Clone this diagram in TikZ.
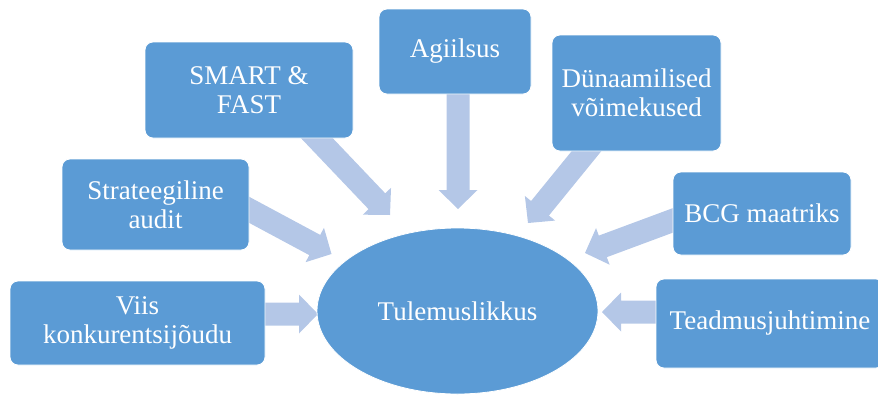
\documentclass[tikz,border=0pt]{standalone}
\usepackage{fontspec}
\setmainfont{Liberation Serif}
\usetikzlibrary{calc,shapes.geometric}
\pgfdeclarelayer{bg}
\pgfsetlayers{bg,main}
\definecolor{boxblue}{HTML}{5B9BD5}
\definecolor{arrblue}{HTML}{B4C7E7}
\newcommand\blockarr[2]{%
  \coordinate (#1b) at ($(#2)!19pt!(#1)$);
  \fill[arrblue] ($(#1)!11.5pt!90:(#2)$) -- ($(#1b)!11.5pt!-90:(#1)$) -- ($(#1b)!19.5pt!-90:(#1)$) -- (#2)
     -- ($(#1b)!19.5pt!90:(#1)$) -- ($(#1b)!11.5pt!90:(#1)$) -- ($(#1)!11.5pt!-90:(#2)$) -- cycle;}
\begin{document}
\begin{tikzpicture}[x=1pt,y=-1pt,
  box/.style={rectangle, rounded corners=8pt, fill=boxblue, draw=white, line width=0.8pt,
    text=white, font=\fontsize{27}{29}\selectfont, align=center, inner sep=0pt},
  ellnode/.style={ellipse, fill=boxblue, draw=white, line width=0.8pt, inner sep=0pt,
    text=white, font=\fontsize{27}{29}\selectfont}]
\useasboundingbox (0,0) rectangle (878,394);
\clip (0,0) rectangle (878,394);
% nodes
\node[box, minimum width=255pt, minimum height=84pt] (viis) at (137.5,323) {Viis\\konkurentsijõudu};
\node[box, minimum width=187pt, minimum height=91pt] (strat) at (155.5,204.5) {Strateegiline\\audit};
\node[box, minimum width=208pt, minimum height=96pt] (smart) at (249,90) {SMART \&\\FAST};
\node[box, minimum width=152pt, minimum height=85pt] (agil) at (455,51.5) {Agiilsus};
\node[box, minimum width=169pt, minimum height=116pt] (dun) at (636.5,93) {Dünaamilised\\võimekused};
\node[box, minimum width=178pt, minimum height=83pt] (bcg) at (762,213.5) {BCG maatriks};
\node[box, minimum width=228pt, minimum height=89pt] (tead) at (770,323.5) {Teadmusjuhtimine};
\node[ellnode, minimum width=281pt, minimum height=166pt] (ell) at (457.5,311) {Tulemuslikkus};
% arrows (behind boxes)
\begin{pgfonlayer}{bg}
\coordinate (s1) at (250,314);   \coordinate (t1) at (318,314);
\coordinate (s2) at (234.4,201.9); \coordinate (t2) at (331.5,254);
\coordinate (s3) at (306.7,127.5); \coordinate (t3) at (390,215);
\coordinate (s4) at (458,85);    \coordinate (t4) at (458,209);
\coordinate (s5) at (597.6,137.5); \coordinate (t5) at (528,223);
\coordinate (s6) at (688.7,214.5); \coordinate (t6) at (585,253);
\coordinate (s7) at (670,312);   \coordinate (t7) at (602,312);
\blockarr{s1}{t1}
\blockarr{s2}{t2}
\blockarr{s3}{t3}
\blockarr{s4}{t4}
\blockarr{s5}{t5}
\blockarr{s6}{t6}
\blockarr{s7}{t7}
\end{pgfonlayer}
\end{tikzpicture}
\end{document}
